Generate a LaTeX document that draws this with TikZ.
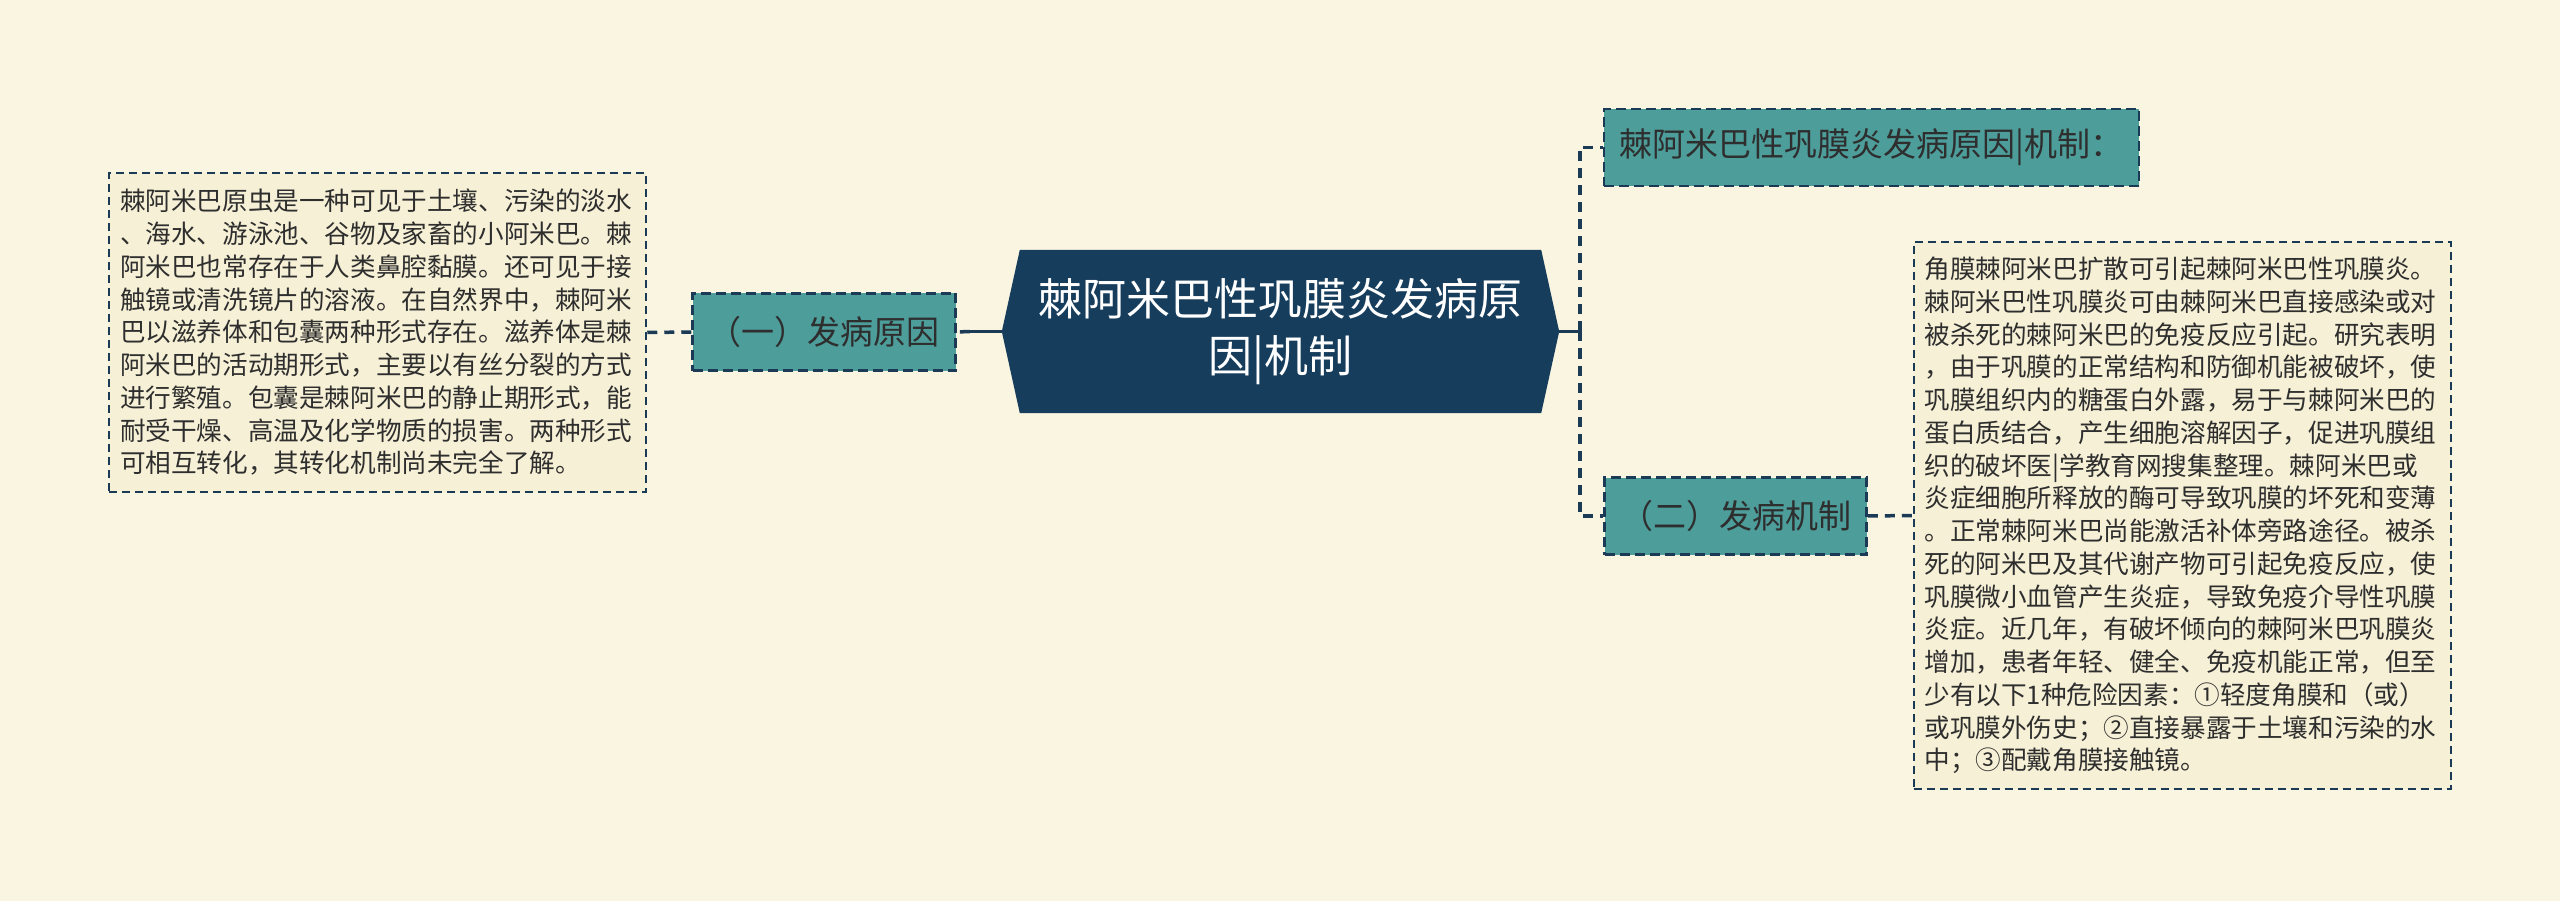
\documentclass[tikz,border=0pt]{standalone}
\usepackage{fontspec}
\newfontfamily\cjk{Noto Sans CJK SC}
\usetikzlibrary{backgrounds}
\definecolor{papercream}{HTML}{FAF5E1}
\definecolor{notecream}{HTML}{F6F0D6}
\definecolor{branchteal}{HTML}{4D9D9B}
\definecolor{rootnavy}{HTML}{173D5C}
\definecolor{linenavy}{HTML}{1B3A56}
\definecolor{inkgray}{HTML}{2E2E2E}

\begin{document}
\begin{tikzpicture}[x=1pt, y=-1pt,
    note/.style={draw=linenavy, line width=2pt, dash pattern=on 8pt off 5pt, fill=notecream, text=inkgray,
      align=left, inner xsep=11pt, inner ysep=0pt, text width=515pt, font=\cjk\fontsize{25.6}{32.75}\selectfont},
    branch/.style={draw=linenavy, line width=2.5pt, dash pattern=on 10pt off 5pt, fill=branchteal, text=inkgray,
      inner sep=0pt, minimum height=77pt, font=\cjk\fontsize{33}{40}\selectfont},
    rootbox/.style={inner sep=0pt, minimum width=521pt, minimum height=163pt, align=center, text=white,
      font=\cjk\fontsize{44}{57}\selectfont},
    link/.style={draw=linenavy, line width=3.5pt, dash pattern=on 10pt off 7pt},
    stub/.style={draw=linenavy, line width=3.5pt}]
    \useasboundingbox (0, 0) rectangle (2560, 901);

    \node[note, minimum height=319pt] (cause) at (377.5, 332.5) {棘阿米巴原虫是一种可见于土壤、污染的淡水\\
      、海水、游泳池、谷物及家畜的小阿米巴。棘\\
      阿米巴也常存在于人类鼻腔黏膜。还可见于接\\
      触镜或清洗镜片的溶液。在自然界中，棘阿米\\
      巴以滋养体和包囊两种形式存在。滋养体是棘\\
      阿米巴的活动期形式，主要以有丝分裂的方式\\
      进行繁殖。包囊是棘阿米巴的静止期形式，能\\
      耐受干燥、高温及化学物质的损害。两种形式\\
      可相互转化，其转化机制尚未完全了解。};
    \node[branch, minimum width=263pt] (causehead) at (824, 332) {（一）发病原因};
    \node[rootbox] (root) at (1280.5, 331.5) {棘阿米巴性巩膜炎发病原\\因|机制};
    \node[branch, minimum width=535pt] (title) at (1871.5, 147.5) {棘阿米巴性巩膜炎发病原因|机制：};
    \node[branch, minimum width=262pt] (mechhead) at (1735.5, 516) {（二）发病机制};
    \node[note, minimum height=547pt] (mech) at (2182, 515.5) {角膜棘阿米巴扩散可引起棘阿米巴性巩膜炎。\\
      棘阿米巴性巩膜炎可由棘阿米巴直接感染或对\\
      被杀死的棘阿米巴的免疫反应引起。研究表明\\
      ，由于巩膜的正常结构和防御机能被破坏，使\\
      巩膜组织内的糖蛋白外露，易于与棘阿米巴的\\
      蛋白质结合，产生细胞溶解因子，促进巩膜组\\
      织的破坏医|学教育网搜集整理。棘阿米巴或\\
      炎症细胞所释放的酶可导致巩膜的坏死和变薄\\
      。正常棘阿米巴尚能激活补体旁路途径。被杀\\
      死的阿米巴及其代谢产物可引起免疫反应，使\\
      巩膜微小血管产生炎症，导致免疫介导性巩膜\\
      炎症。近几年，有破坏倾向的棘阿米巴巩膜炎\\
      增加，患者年轻、健全、免疫机能正常，但至\\
      少有以下1种危险因素：①轻度角膜和（或）\\
      或巩膜外伤史；②直接暴露于土壤和污染的水\\
      中；③配戴角膜接触镜。};

    \begin{scope}[on background layer]
      \fill[papercream] (0, 0) rectangle (2560, 901);
      \fill[rootnavy] (root.north west) -- (root.north east) -- ([xshift=18pt]root.east)
        -- (root.south east) -- (root.south west) -- ([xshift=-18pt]root.west) -- cycle;
    \end{scope}

    \draw[stub] ([xshift=-18pt]root.west) -- ++(-32, 0) coordinate (leftfork);
    \draw[link] (leftfork) -- (causehead.east);
    \draw[link] (causehead.west) -- (cause.east);
    \draw[stub] ([xshift=18pt]root.east) -- ++(21, 0) coordinate (rightfork);
    \draw[link] (rightfork) |- (title.west);
    \draw[link] (rightfork) |- (mechhead.west);
    \draw[link] (mechhead.east) -- (mech.west);
  \end{tikzpicture}
\end{document}
